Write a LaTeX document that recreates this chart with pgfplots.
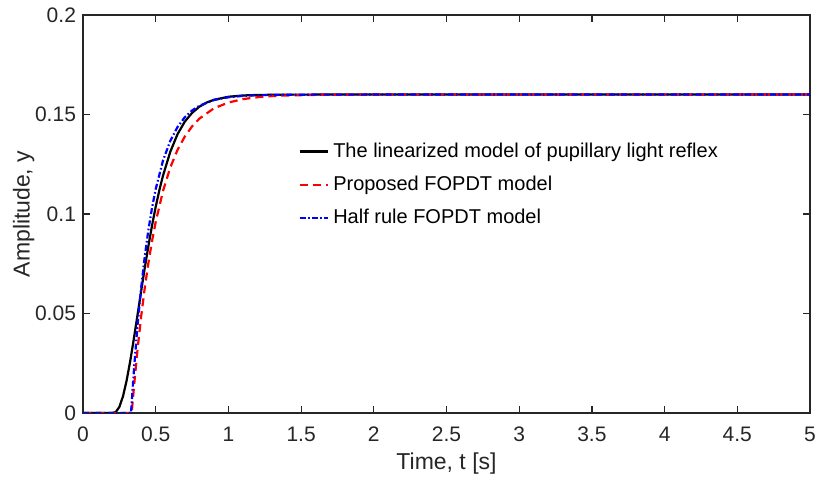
\documentclass[border=0pt]{standalone}
\usepackage{pgfplots}
\pgfplotsset{compat=1.18}
\usepackage{fontspec}
\setmainfont{Liberation Sans}
\definecolor{axgray}{RGB}{38,38,38}
\begin{document}
\begin{tikzpicture}
\begin{axis}[
  name=ax,
  scale only axis,
  width=363.5pt, height=199pt,
  xmin=0, xmax=5, ymin=0, ymax=0.2,
  xtick={0,0.5,1,1.5,2,2.5,3,3.5,4,4.5,5},
  xticklabels={0,0.5,1,1.5,2,2.5,3,3.5,4,4.5,5},
  ytick={0,0.05,0.1,0.15,0.2},
  yticklabels={0,0.05,0.1,0.15,0.2},
  tick align=inside,
  major tick length=3.5pt,
  axis line style={axgray, line width=0.6pt},
  every tick/.style={axgray, line width=0.6pt},
  tick label style={font=\fontsize{10.5}{12}\selectfont, text=axgray},
  xticklabel style={yshift=-3.5pt},
  label style={font=\fontsize{11.5}{13}\selectfont, text=axgray},
  xlabel={Time, t [s]},
  ylabel={Amplitude, y},
  xlabel style={yshift=1.5pt},
  ylabel style={yshift=-6.5pt},
  legend cell align=left,
  legend style={draw=none, fill=none, at={(0.296,0.69)}, anchor=north west,
    font=\fontsize{10}{12}\selectfont, row sep=3.8pt, inner sep=0pt},
  legend image code/.code={\draw[#1] plot coordinates {(0cm,0cm) (0.5cm,0cm)};},
]
\addplot[black, line width=1.1pt] coordinates {
(0,0) (0.2,0) (0.225,0.00045) (0.25,0.00302) (0.275,0.00837) (0.3,0.01629)
(0.325,0.02619) (0.35,0.03742) (0.375,0.0493) (0.4,0.0613) (0.425,0.0730)
(0.45,0.0840) (0.475,0.0943) (0.5,0.1036) (0.525,0.1119) (0.55,0.1192)
(0.6,0.1312) (0.65,0.1401) (0.7,0.1464) (0.75,0.1508) (0.8,0.1539)
(0.85,0.15599) (0.9,0.15738) (1.0,0.15891) (1.1,0.15956) (1.2,0.15982)
(1.4,0.15997) (1.6,0.16) (5,0.16)
};
\addlegendentry{The linearized model of pupillary light reflex}
\addplot[red, line width=1.1pt, dash pattern=on 4pt off 2.5pt] coordinates {
(0,0) (0.335,0) (0.35,0.0128) (0.375,0.0319) (0.4,0.0485) (0.425,0.0630)
(0.45,0.0755) (0.475,0.0865) (0.5,0.0960) (0.55,0.1115) (0.6,0.1233)
(0.65,0.1322) (0.7,0.1389) (0.75,0.1440) (0.8,0.1479) (0.9,0.1531)
(1.0,0.1560) (1.1,0.15772) (1.2,0.15869) (1.3,0.15925) (1.4,0.15957)
(1.6,0.15986) (1.8,0.15995) (2.0,0.15998) (5,0.16)
};
\addlegendentry{Proposed FOPDT model}
\addplot[blue, line width=1.1pt, dash pattern=on 3pt off 1.2pt on 0.8pt off 1.2pt] coordinates {
(0,0) (0.33,0) (0.35,0.0213) (0.375,0.0440) (0.4,0.0630) (0.425,0.0788)
(0.45,0.0921) (0.475,0.1032) (0.5,0.1125) (0.55,0.1268) (0.6,0.1367)
(0.65,0.1437) (0.7,0.1486) (0.75,0.1520) (0.8,0.1544) (0.9,0.15727)
(1.0,0.15866) (1.1,0.15935) (1.2,0.15968) (1.4,0.15992) (1.6,0.15998)
(2,0.16) (5,0.16)
};
\addlegendentry{Half rule FOPDT model}
\end{axis}
\pgfresetboundingbox
\path[use as bounding box] ([xshift=-41.5pt,yshift=-33.5pt]ax.south west) rectangle ([xshift=3.5pt,yshift=7.5pt]ax.north east);
\end{tikzpicture}
\end{document}
